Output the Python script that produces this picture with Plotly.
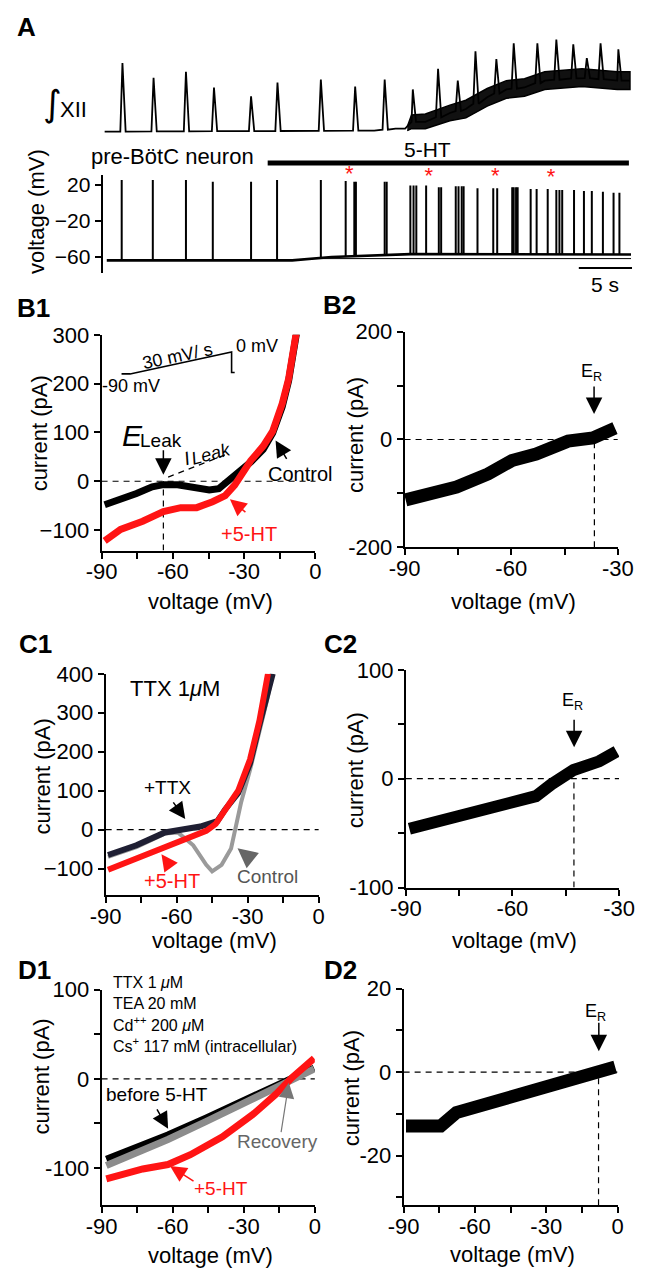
import numpy as np
import plotly.graph_objects as go

W, H = 650, 1280
FONT = "Liberation Sans, Arial, Helvetica, sans-serif"
NARROW = "Liberation Sans Narrow, Arial Narrow, Liberation Sans, Arial"
RED = "#ff1414"
NAVY = "#1f1f33"

# ---------------- A: integrated XII (arbitrary units) and neuron Vm
xii_base_t = [0.2, 25.5, 27.5, 28.4, 29.0, 30.3, 32.6, 34.1, 36.1, 37.9, 39.6, 41.5, 45.0, 48.3, 49.5]
xii_base_v = [0, 1, 3, 3, 10, 10, 19, 23, 35, 43, 45, 52, 55, 52, 52]
xii_peak_t = [1.87, 4.79, 7.83, 10.46, 13.94, 16.42, 20.49, 23.71, 26.48, 29.12,
              31.49, 33.34, 35.0, 36.96, 38.59, 40.81, 42.59, 44.18, 45.45, 46.74, 48.41]
xii_peak_v = [70, 55, 61, 45, 36, 50, 53, 46, 53, 43, 64, 52, 82, 74, 90, 90, 94, 89, 75, 90, 84]
xii_noise_t = [28.6, 29.0, 30.3, 32.6, 34.1, 36.1, 37.9, 39.6, 41.5, 45.0, 48.3, 49.5]
xii_noise_lo = [1, 3, 3, 11, 14, 26, 34, 36, 43, 46, 43, 43]
xii_noise_hi = [5, 17, 18, 27, 32, 44, 52, 54, 61, 64, 61, 61]

vm_base_t = [0.4, 17.8, 21.5, 25.0, 28.9, 49.6]
vm_base_v = [-64, -64, -60.3, -58.5, -57, -57.5]
spike_t = [1.80, 4.72, 7.83, 10.35, 13.94, 16.38, 20.49, 22.82, 23.63, 23.78,
           26.48, 26.67, 28.89, 29.19, 29.45, 30.37, 31.56, 31.78, 33.15, 33.41,
           33.71, 33.89, 35.19, 36.67, 37.04, 38.45, 38.59, 38.81, 38.96, 40.18,
           40.74, 41.78, 42.59, 42.88, 43.14, 44.25, 45.18, 45.92, 46.96, 47.96, 48.51]
spike_peak = [25, 25, 25, 23, 23, 25, 25, 24, 23, 23, 23, 23, 19, 19, 19, 19, 17, 17,
              18, 18, 18, 18, 16, 16, 16, 17, 17, 17, 17, 15, 15, 15, 14, 14, 14, 14,
              13, 13, 12, 11, 11]
star_t = [23.15, 30.63, 36.85, 42.1]
star_v = [30, 28, 28, 27]
rest_line_t = [19.3, 49.6]
rest_line_v = -62
ht_bar_t = [15.5, 49.4]
scale_bar_t = [44.7, 49.7]

# ---------------- B1
b1_ctrl_v = [-88.7, -82, -75.3, -68.7, -64, -58, -51.3, -44.7, -40.7, -37.3, -32.7,
             -27.3, -22, -18, -14, -11.3, -8]
b1_ctrl_i = [-48, -38, -25, -11.5, -7, -7, -13.5, -18, -15, -1.5, 19, 39, 65.5, 99,
             153, 206, 303]
b1_ht_v = [-88.7, -82, -72.7, -64, -56.7, -50, -43.3, -38, -34, -31.3, -27.3, -22,
           -18, -14, -11.3, -8]
b1_ht_i = [-122, -98.5, -82, -62, -54, -54, -42, -29.5, -8, 15, 42, 72, 102.5, 159,
           210, 307]
b1_e_leak = -64
ileak_v = [-62, -37.3]
ileak_i = [8.6, 55.5]
ramp_v = [-81.6, -78, -35.3, -35.3, -34]
ramp_i = [220, 220, 265, 223, 223]

# ---------------- B2 (5-HT sensitive current)
b2_v = [-89.7, -82.5, -75.4, -66.5, -59.8, -53, -44, -37, -30.8]
b2_i = [-112, -100, -88, -64, -39, -27, -3, 3, 21]
b2_e_r = -36.6

# ---------------- C1
c1_ctrl_v = [-89, -77, -65, -59.5, -53, -47.5, -45, -41, -37, -35.5, -32.8, -29, -25,
             -21.5, -19.5]
c1_ctrl_i = [-70, -45, -10, -7, -40, -90, -107, -90, -48, -7, 69, 153, 250, 340, 400]
c1_ttx_v = [-89, -77, -65, -57, -50, -42.8, -39.5, -34, -29, -25, -19.4]
c1_ttx_i = [-65, -40, -7, 3, 8, 22, 52, 94, 170, 270, 400]
c1_ht_v = [-89, -77, -63.6, -53, -47.5, -43.5, -39.5, -34, -29, -25, -21.4]
c1_ht_i = [-103, -74, -40, -15, -3, 15, 53, 100, 180, 280, 400]

# ---------------- C2
c2_v = [-89, -75.7, -62.4, -53.4, -49, -42.8, -35.6, -30.7]
c2_i = [-46, -35, -25, -16, -5, 8, 16, 25]
c2_e_r = -42.7

# ---------------- D1
d1_ctrl_v = [-88, -72.6, -62, -46, -32.5, -19, -9.8, -0.3]
d1_ctrl_i = [-90, -74, -63, -44, -28, -12, 0, 12]
d1_rec_v = [-88, -72.6, -62, -46, -32.5, -19, -9.8, -0.3]
d1_rec_i = [-97, -80, -68, -48, -31, -14, -1, 11]
d1_ht_v = [-88, -72.6, -62, -52.5, -39, -25.7, -16.3, -9.8, -0.3]
d1_ht_i = [-112, -101, -96, -85, -65, -39, -17, 1, 23]

# ---------------- D2
d2_v = [-89, -74.4, -67.8, -54.4, -41, -27.8, -14.4, -1]
d2_i = [-12.9, -12.9, -9.7, -7.4, -5, -2.7, -0.3, 1.2]
d2_e_r = -8


def px(x):
    return x / W


def py(y):
    return 1 - y / H


fig = go.Figure()


def line(x, y, xa, ya, color, width, **kw):
    fig.add_trace(go.Scatter(x=x, y=y, xaxis=xa, yaxis=ya, mode="lines",
                             line=dict(color=color, width=width), hoverinfo="skip", **kw))


# ---- panel A traces
fig.add_trace(go.Scatter(x=xii_noise_t + xii_noise_t[::-1], y=xii_noise_hi + xii_noise_lo[::-1],
                         xaxis="x", yaxis="y2", mode="lines", fill="toself", fillcolor="#111111",
                         line=dict(color="black", width=1.5), hoverinfo="skip"))
pk_base = np.interp(xii_peak_t, xii_base_t, xii_base_v)
pts = list(zip(xii_base_t, xii_base_v))
for t, v, b in zip(xii_peak_t, xii_peak_v, pk_base):
    pts += [(t - 0.2, b), (t, v), (t + 0.3, b)]
pts.sort()
line([p[0] for p in pts], [p[1] for p in pts], "x", "y2", "black", 1.8)

line(vm_base_t, vm_base_v, "x", "y", "black", 2.6)
sp_base = np.interp(spike_t, vm_base_t, vm_base_v)
sx, sy = [], []
for t, p, b in zip(spike_t, spike_peak, sp_base):
    sx += [t, t, None]
    sy += [b, p, None]
line(sx, sy, "x", "y", "black", 2)
line(rest_line_t, [rest_line_v] * 2, "x", "y", "black", 1)
fig.add_trace(go.Scatter(x=star_t, y=star_v, xaxis="x", yaxis="y", mode="text", text=["*"] * 4,
                         textfont=dict(color=RED, size=22, family=FONT), cliponaxis=False,
                         hoverinfo="skip"))

# ---- IV traces
line(b1_ctrl_v, b1_ctrl_i, "x2", "y3", "black", 7)
line(b1_ht_v, b1_ht_i, "x2", "y3", RED, 7)
line(ramp_v, ramp_i, "x2", "y3", "black", 1.6)
line(b2_v, b2_i, "x3", "y4", "black", 13)
line(c1_ctrl_v, c1_ctrl_i, "x4", "y5", "#9a9a9a", 4)
line(c1_ttx_v, c1_ttx_i, "x4", "y5", NAVY, 6)
line(c1_ht_v, c1_ht_i, "x4", "y5", RED, 6)
line(c2_v, c2_i, "x5", "y6", "black", 12)
line(d1_ctrl_v, d1_ctrl_i, "x6", "y7", "black", 7)
line(d1_rec_v, d1_rec_i, "x6", "y7", "#8c8c8c", 7)
line(d1_ht_v, d1_ht_i, "x6", "y7", RED, 7)
line(d2_v, d2_i, "x7", "y8", "black", 13)

# ---- axes
AX = dict(showline=True, linecolor="black", linewidth=2, ticks="outside", ticklen=6,
          tickwidth=2, tickcolor="black", showgrid=False, zeroline=False, fixedrange=True,
          tickfont=dict(size=22, family=FONT, color="black"))
XAX = dict(AX, ticklabelstandoff=-6)
v90 = [-90, -75, -60, -45, -30, -15, 0]
v90t = ["-90", "", "-60", "", "-30", "", "0"]
v60 = [-90, -75, -60, -45, -30]
v60t = ["-90", "", "-60", "", "-30"]

fig.update_layout(
    xaxis=dict(domain=[px(91), px(648)], range=[0, 49.7], visible=False, fixedrange=True),
    yaxis=dict(AX, domain=[py(266.7), py(166.7)], range=[-78.5, 30.1], anchor="x",
               tickvals=[-60, -20, 20], tickfont=dict(size=21, family=FONT, color="black")),
    yaxis2=dict(domain=[py(130), py(20)], range=[-8, 102], anchor="x", visible=False,
                fixedrange=True),
    xaxis2=dict(XAX, domain=[px(90), px(315)], range=[-90, 0], anchor="y3",
                tickvals=v90, ticktext=v90t),
    yaxis3=dict(AX, domain=[py(549.3), py(329.3)], range=[-142, 300], anchor="x2",
                tickvals=[-100, 0, 100, 200, 300]),
    xaxis3=dict(XAX, domain=[px(408.7), px(633)], range=[-90, -30], anchor="y4",
                tickvals=v60, ticktext=v60t),
    yaxis4=dict(AX, domain=[py(546), py(326)], range=[-200, 200], anchor="x3",
                tickvals=[-200, -100, 0, 100, 200], ticktext=["-200", "", "0", "", "200"]),
    xaxis4=dict(XAX, domain=[px(94.3), px(318.3)], range=[-90, 0], anchor="y5",
                tickvals=v90, ticktext=v90t),
    yaxis5=dict(AX, domain=[py(901), py(675)], range=[-168.6, 400], anchor="x4",
                tickvals=[-100, 0, 100, 200, 300, 400]),
    xaxis5=dict(XAX, domain=[px(410), px(634.3)], range=[-90, -30], anchor="y6",
                tickvals=v60, ticktext=v60t),
    yaxis6=dict(AX, domain=[py(893), py(671)], range=[-100, 100], anchor="x5",
                tickvals=[-100, -50, 0, 50, 100], ticktext=["-100", "", "0", "", "100"]),
    xaxis6=dict(XAX, domain=[px(90), px(314.3)], range=[-90, 0], anchor="y7",
                tickvals=v90, ticktext=v90t),
    yaxis7=dict(AX, domain=[py(1217), py(997)], range=[-141.6, 100], anchor="x6",
                tickvals=[-100, -50, 0, 50, 100], ticktext=["-100", "", "0", "", "100"]),
    xaxis7=dict(XAX, domain=[px(407.7), px(632.7)], range=[-90, 0], anchor="y8",
                tickvals=v90, ticktext=v90t),
    yaxis8=dict(AX, domain=[py(1217), py(996)], range=[-31.9, 20], anchor="x7",
                tickvals=[-30, -20, -10, 0, 10, 20], ticktext=["", "-20", "", "0", "", "20"]),
)

# ---- reference lines and bars
DASH = "6px,5px"
shapes = []


def dline(xr, yr, x0, x1, y0, y1):
    shapes.append(dict(type="line", xref=xr, yref=yr, x0=x0, x1=x1, y0=y0, y1=y1,
                       layer="below", line=dict(color="black", width=1.2, dash=DASH)))


dline("x2", "y3", -90, 0.8, 0, 0)
dline("x2", "y3", b1_e_leak, b1_e_leak, -142, 0)
dline("x2", "y3", ileak_v[0], ileak_v[1], ileak_i[0], ileak_i[1])
dline("x3", "y4", -90, -30, 0, 0)
dline("x3", "y4", b2_e_r, b2_e_r, -200, 0)
dline("x4", "y5", -90, 0.8, 0, 0)
dline("x5", "y6", -90, -30, 0, 0)
dline("x5", "y6", c2_e_r, c2_e_r, -100, 0)
dline("x6", "y7", -90, 0.8, 0, 0)
dline("x7", "y8", -90, 0, 0, 0)
dline("x7", "y8", d2_e_r, d2_e_r, -31.9, 0)
shapes.append(dict(type="line", xref="x", yref="paper", x0=ht_bar_t[0], x1=ht_bar_t[1],
                   y0=py(154), y1=py(154), line=dict(color="black", width=5)))
shapes.append(dict(type="line", xref="x", yref="paper", x0=scale_bar_t[0], x1=scale_bar_t[1],
                   y0=py(261), y1=py(261), line=dict(color="black", width=2)))

# ---- text and arrows
ann = []


def txt(x, y, s, size=22, color="black", angle=0, xanchor="center", family=FONT):
    ann.append(dict(x=px(x), y=py(y), xref="paper", yref="paper", text=s, showarrow=False,
                    textangle=angle, xanchor=xanchor, yanchor="middle",
                    font=dict(size=size, color=color, family=family)))


def arrow(tip, tail, color="black", size=2.2, width=1.5):
    ann.append(dict(x=px(tip[0]), y=py(tip[1]), xref="paper", yref="paper", text="",
                    showarrow=True, arrowhead=2, arrowsize=size, arrowwidth=width,
                    arrowcolor=color, ax=tail[0] - tip[0], ay=tail[1] - tip[1]))


for s, x, y in [("A", 11, 15), ("B1", 18, 302), ("B2", 340, 299), ("C1", 21, 645),
                ("C2", 341, 645), ("D1", 19, 977), ("D2", 341, 977)]:
    txt(x, y, "<b>%s</b>" % s, size=26)

for x, y in [(21, 203), (25, 430), (357, 431), (28, 780), (358, 773), (27, 1086), (353, 1098)]:
    txt(x, y, "current (pA)" if y > 300 else "voltage (mV)", angle=-90)
for x, y in [(205, 601), (523, 601), (209, 947), (524, 947), (205, 1268), (522, 1267)]:
    txt(x, y, "voltage (mV)")

# panel A
txt(38, 93, "∫", size=36, family="DejaVu Sans")
txt(61, 99, "XII", size=22)
txt(165, 147, "pre-BötC neuron", size=22)
txt(433, 140, "5-HT", size=21)
txt(619, 278, "5 s", size=21)

# B1
txt(170, 351, "30 mV/ s", size=18, angle=-12)
txt(229, 341, "0 mV", size=18, xanchor="left")
txt(121, 381, "-90 mV", size=18)
txt(123, 432, "<i>E</i>", size=30)
txt(152, 437, "Leak", size=19)
arrow((155, 472), (155, 446))
txt(180, 455, "<i>I</i>", size=19, angle=-15)
txt(205, 451, "<i>Leak</i>", size=18, angle=-15)
txt(299, 471, "Control", size=20)
arrow((273, 437), (285, 457))
txt(245, 532, "+5-HT", size=20, color=RED)
arrow((225, 497), (242, 511), color=RED)

# B2
txt(605, 368, "E<sub>R</sub>", size=18)
arrow((608, 410), (608, 381))

# C1
txt(167, 690, "TTX 1<i>μ</i>M", size=22)
txt(159, 791, "+TTX", size=19)
arrow((178, 823), (165, 805))
txt(164, 886, "+5-HT", size=20, color=RED)
arrow((153, 859), (163, 873), color=RED)
txt(264, 882, "Control", size=19, color="#555555")
arrow((233, 853), (248, 865), color="#666666", size=2.6)

# C2
txt(585, 703, "E<sub>R</sub>", size=18)
arrow((587, 750), (587, 721))

# D1
for y, s in [(990, "TTX 1 <i>μ</i>M"), (1011, "TEA 20 mM"), (1032, "Cd<sup>++</sup> 200 <i>μ</i>M"),
             (1054, "Cs<sup>+</sup> 117 mM (intracellular)")]:
    txt(100, y, s, size=16, xanchor="left", family=NARROW)
txt(148, 1104, "before 5-HT", size=19)
arrow((160, 1139), (148, 1118))
txt(275, 1152, "Recovery", size=19, color="#666666")
arrow((287, 1092), (279, 1143), color="#777777", size=2.6, width=1.2)
txt(216, 1200, "+5-HT", size=19, color=RED)
arrow((162, 1177), (187, 1193), color=RED)

# D2
txt(610, 1020, "E<sub>R</sub>", size=18)
arrow((613, 1060), (613, 1030))

fig.update_layout(width=W, height=H, autosize=False, margin=dict(l=0, r=0, t=0, b=0),
                  showlegend=False, paper_bgcolor="white", plot_bgcolor="rgba(0,0,0,0)",
                  font=dict(family=FONT, color="black"), shapes=shapes, annotations=ann)

fig.write_html("out.html", config={"displayModeBar": False, "staticPlot": True},
               post_script="document.body.style.margin='0px';")
